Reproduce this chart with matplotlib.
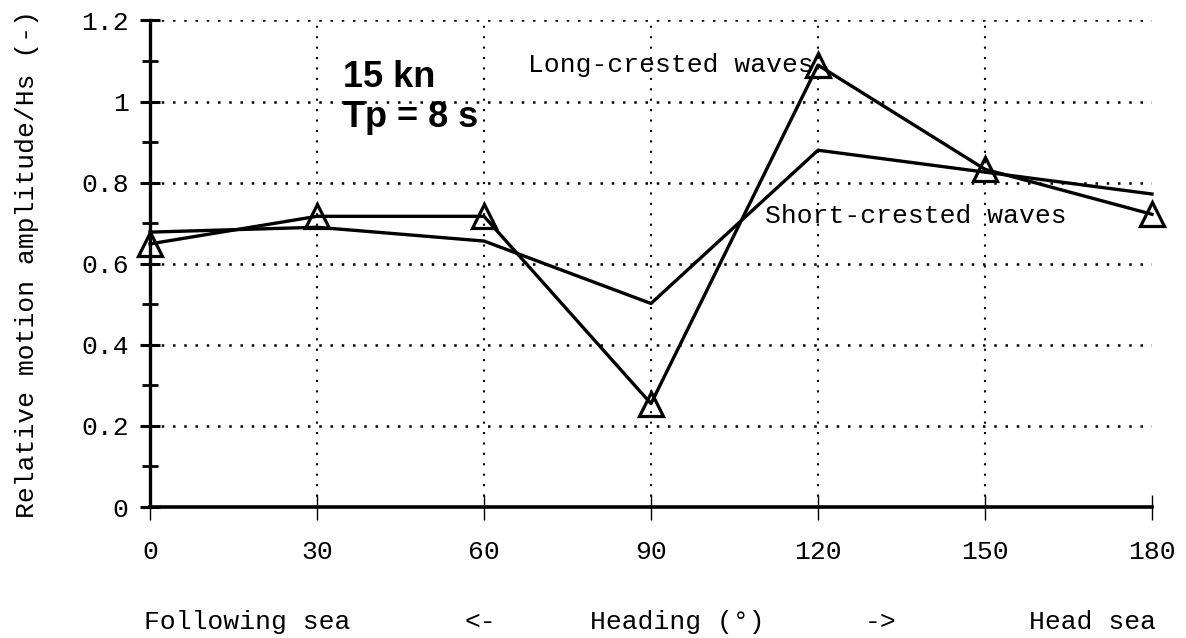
import numpy as np
import matplotlib.pyplot as plt
import matplotlib.transforms as mtransforms

plt.rcParams['font.family'] = ['Liberation Mono', 'DejaVu Sans Mono']

heading = [0, 30, 60, 90, 120, 150, 180]
long_crested = [0.649, 0.717, 0.717, 0.255, 1.09, 0.833, 0.722]
short_crested = [0.678, 0.690, 0.656, 0.502, 0.880, 0.826, 0.772]

xticks = [0, 30, 60, 90, 120, 150, 180]
yticks = [0, 0.2, 0.4, 0.6, 0.8, 1.0, 1.2]
ytick_labels = ['0', '0.2', '0.4', '0.6', '0.8', '1', '1.2']

fs = 19

fig = plt.figure(figsize=(11.86, 6.38), dpi=100)
ax = fig.add_axes([0.1265, 0.2053, 0.9713 - 0.1265, 0.9679 - 0.2053])
ax.set_xlim(0, 180)
ax.set_ylim(0, 1.2)

# dotted grid, drawn by hand so there is no line at the right edge
for y in yticks[1:]:
    ax.axhline(y, color='black', lw=1.8, ls=(0, (1, 3.5)), zorder=1)
for x in xticks[1:-1]:
    ax.axvline(x, color='black', lw=1.5, ls=(0, (1, 4)), zorder=1)

ax.plot(heading, long_crested, color='black', lw=2.4, marker='^', ms=17,
        mfc='none', mec='black', mew=2.3, zorder=3, clip_on=False)
ax.plot(heading, short_crested, color='black', lw=2.4, zorder=3, clip_on=False)

for s in ['top', 'right']:
    ax.spines[s].set_visible(False)
ax.spines['left'].set_linewidth(2.4)
ax.spines['bottom'].set_linewidth(2.6)

ax.set_xticks(xticks)
ax.set_xticklabels([str(v) for v in xticks])
ax.set_yticks(yticks)
ax.set_yticklabels(ytick_labels)
ax.set_yticks(np.arange(0.1, 1.2, 0.2), minor=True)
ax.tick_params(axis='y', which='major', direction='inout', length=15, width=2.2,
               labelsize=fs, pad=8)
ax.tick_params(axis='y', which='minor', direction='inout', length=11, width=2.0)
ax.tick_params(axis='x', which='major', direction='inout', length=18, width=1.0,
               labelsize=fs, pad=15)

ax.set_ylabel('Relative motion amplitude/Hs (-)', fontsize=fs, labelpad=30)

ax.text(120 - 0.8, 1.09, 'Long-crested waves', fontsize=fs, ha='right', va='center')
ax.text(110.5, 0.717, 'Short-crested waves', fontsize=fs, ha='left', va='center')

ax.text(34.6, 1.01, '15 kn\nTp = 8 s', fontsize=26, fontweight='bold',
        family=['Liberation Sans', 'DejaVu Sans'], ha='left', va='center',
        linespacing=1.15)

# direction captions under the heading axis
trans = mtransforms.blended_transform_factory(ax.transData, fig.transFigure)
cap_y = 1 - 622 / 638
ax.text(17.5, cap_y, 'Following sea', fontsize=fs, ha='center', va='center', transform=trans)
ax.text(59.4, cap_y, '<-', fontsize=fs, ha='center', va='center', transform=trans)
ax.text(94.7, cap_y, 'Heading (\u00b0)', fontsize=fs, ha='center', va='center', transform=trans)
ax.text(131.3, cap_y, '->', fontsize=fs, ha='center', va='center', transform=trans)
ax.text(169.4, cap_y, 'Head sea', fontsize=fs, ha='center', va='center', transform=trans)

fig.savefig('out.png', dpi=100)
